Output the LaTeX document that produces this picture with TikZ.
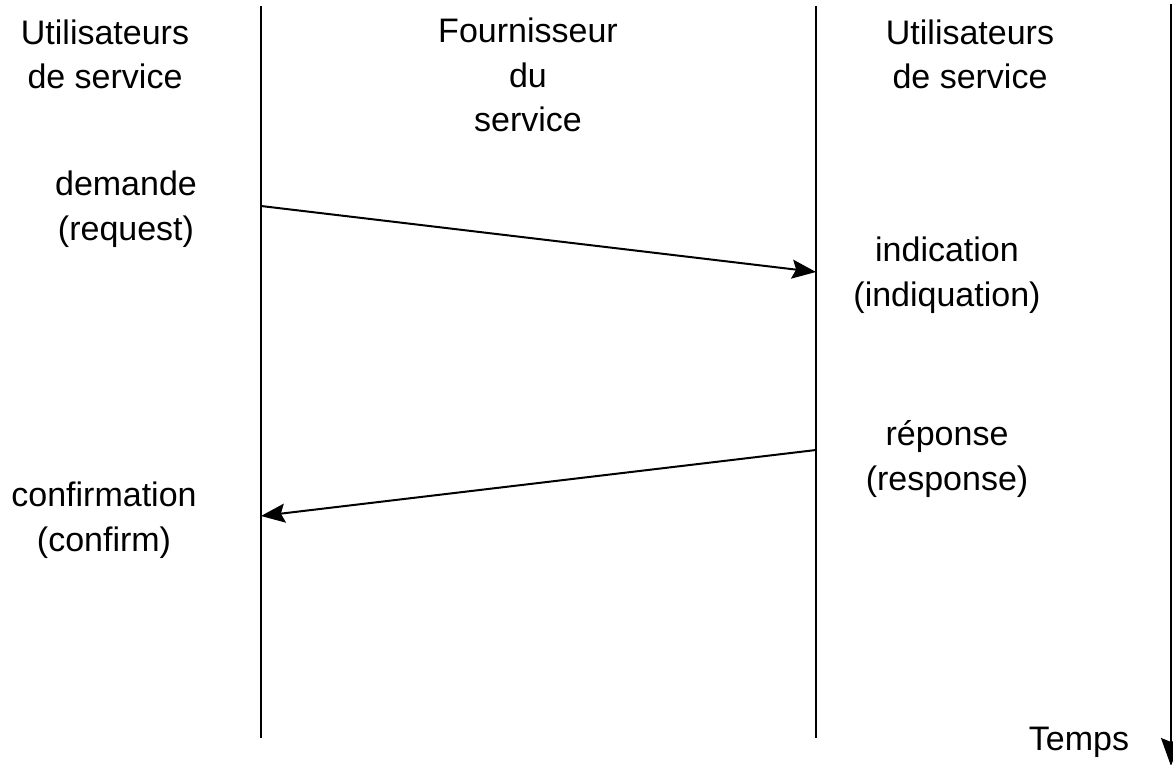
\documentclass[tikz,border=0pt]{standalone}
\usepackage{fontspec}
\setmainfont{Liberation Sans}
\usetikzlibrary{arrows.meta}
\begin{document}
\begin{tikzpicture}[x=1pt,y=-1pt,
  lbl/.style={align=center, inner sep=0pt, anchor=base, font=\fontsize{34}{44.5}\selectfont},
  life/.style={line width=2pt},
  msg/.style={line width=2pt, -{Stealth[length=24pt,width=19pt,inset=4pt]}}]
\useasboundingbox (0,0) rectangle (1173,765);
% lifelines
\coordinate (lt) at (261,6);
\coordinate (lb) at (261,738);
\coordinate (mt) at (816,6);
\coordinate (mb) at (816,738);
\coordinate (tt) at (1171,4);
\coordinate (tb) at (1171,766);
\draw[life] (lt) -- (lb);
\draw[life] (mt) -- (mb);
\draw[life, -{Stealth[length=28pt,width=20pt,inset=4pt]}] (tt) -- (tb);
% messages
\coordinate (req) at (261,206);
\coordinate (ind) at (816,272);
\coordinate (rsp) at (816,450);
\coordinate (cnf) at (261,516);
\draw[msg] (req) -- (ind);
\draw[msg] (rsp) -- (cnf);
% labels (anchored at the baseline of the last line)
\node[lbl] (u1) at (105,89) {Utilisateurs\\de service};
\node[lbl] (fs) at (528,132) {Fournisseur\\du\\service};
\node[lbl] (u2) at (970,89) {Utilisateurs\\de service};
\node[lbl] (dm) at (126,240) {demande\\(request)};
\node[lbl] (in) at (947,306) {indication\\(indiquation)};
\node[lbl] (rp) at (947,490) {réponse\\(response)};
\node[lbl] (cf) at (104,551) {confirmation\\(confirm)};
\node[lbl] (tp) at (1079,750) {Temps};
\end{tikzpicture}
\end{document}
